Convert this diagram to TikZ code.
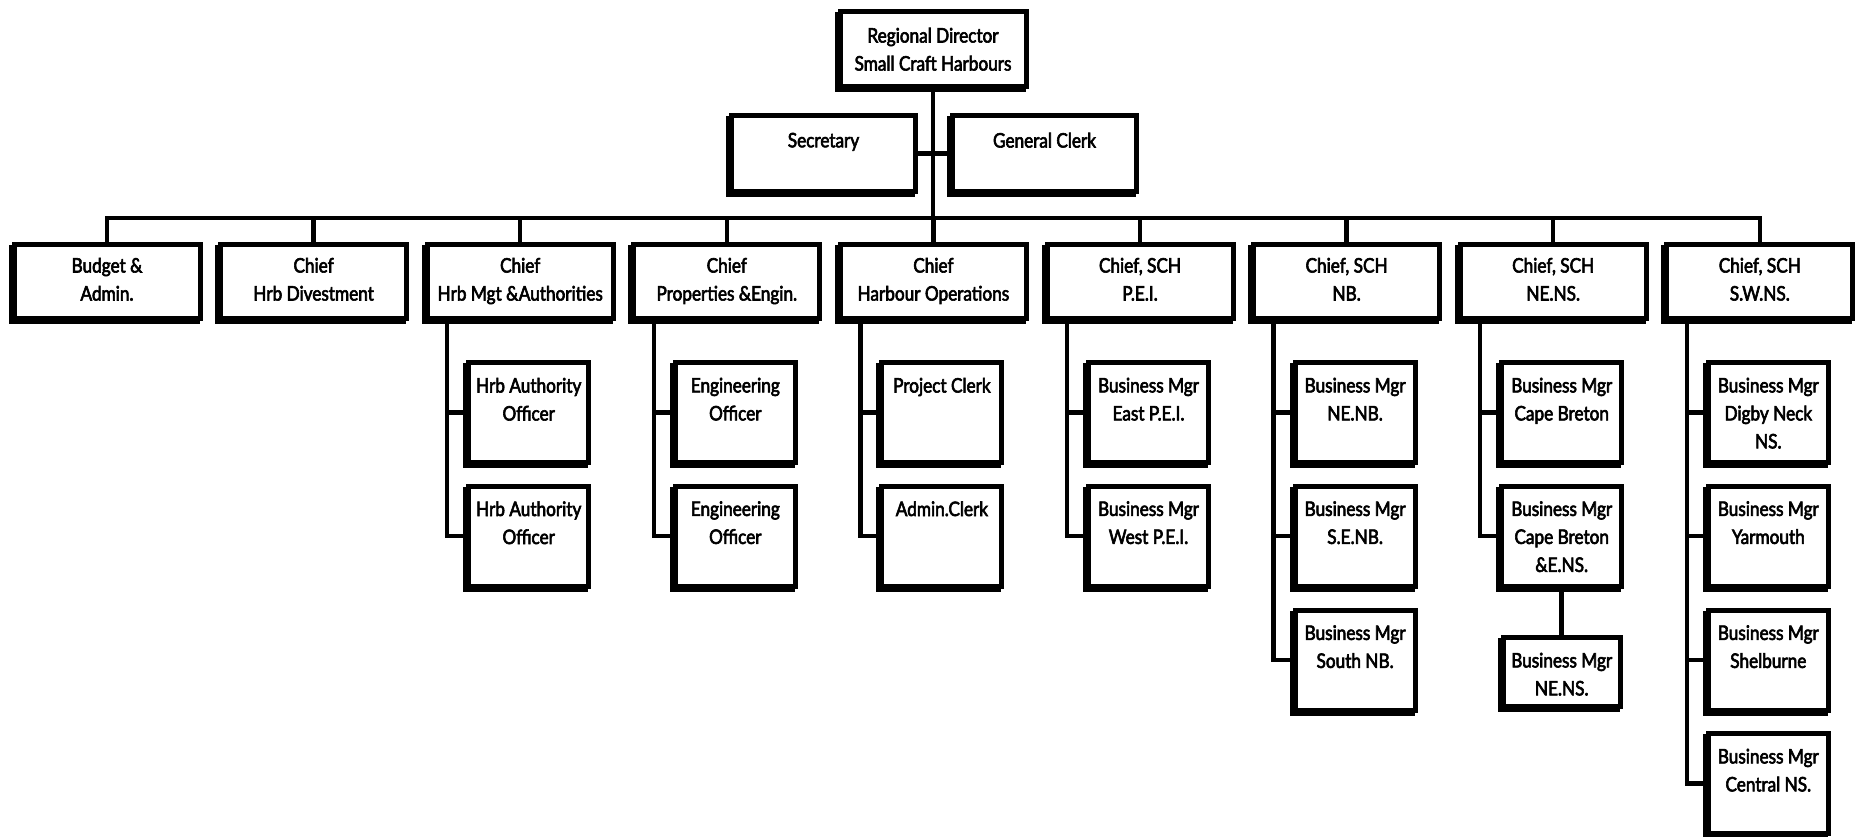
\documentclass[tikz,border=0pt]{standalone}
\usepackage{fontspec}
\setmainfont{Lato}[FakeStretch=0.86,FakeBold=3]
\usetikzlibrary{shadows,backgrounds,calc}

\tikzset{
  x=1pt, y=-1pt,
  unit/.style={rectangle, draw=black, fill=white, line width=5pt, inner sep=0pt, outer sep=0pt,
    general shadow={draw=black, fill=black, line width=5pt, shadow xshift=-3pt, shadow yshift=-3pt}},
  lbl/.style={align=center, inner sep=0pt, outer sep=0pt, font=\fontsize{20}{28}\selectfont},
  wire/.style={line width=4.5pt, line join=miter},
}

% #1 name, #2 centre x, #3 top edge y, #4 width, #5 height, #6 gap above text, #7 text
\newcommand\orgunit[7]{%
  \node[unit, minimum width=#4pt, minimum height=#5pt, anchor=north] (#1) at (#2,#3) {};
  \node[lbl, anchor=north] (#1-t) at ([yshift=-#6pt]#1.north) {#7};
}

\begin{document}
\begin{tikzpicture}
\useasboundingbox (0,0) rectangle (1858,836);

% head of the region and its office staff
\orgunit{rd}{933}{11.5}{186}{75}{16.3}{Regional Director\\Small Craft Harbours}
\orgunit{sec}{823.5}{115.5}{184}{76}{17.3}{Secretary}
\orgunit{clerk}{1044.5}{115.5}{184}{76}{17.3}{General Clerk}

% branch heads
\orgunit{c1}{107}{244}{186}{74}{13.8}{Budget \&\\Admin.}
\orgunit{c2}{313.6}{244}{186}{74}{13.8}{Chief\\Hrb Divestment}
\orgunit{c3}{520.2}{244}{186}{74}{13.8}{Chief\\Hrb Mgt \&Authorities}
\orgunit{c4}{726.8}{244}{186}{74}{13.8}{Chief\\Properties \&Engin.}
\orgunit{c5}{933.4}{244}{186}{74}{13.8}{Chief\\Harbour Operations}
\orgunit{c6}{1140}{244}{186}{74}{13.8}{Chief, SCH\\P.E.I.}
\orgunit{c7}{1346.6}{244}{186}{74}{13.8}{Chief, SCH\\NB.}
\orgunit{c8}{1553.2}{244}{186}{74}{13.8}{Chief, SCH\\NE.NS.}
\orgunit{c9}{1759.8}{244}{186}{74}{13.8}{Chief, SCH\\S.W.NS.}

% staff under each branch
\orgunit{k3a}{528.7}{362.5}{120}{100}{15.3}{Hrb Authority\\Officer}
\orgunit{k3b}{528.7}{486}{120}{100}{15.3}{Hrb Authority\\Officer}
\orgunit{k4a}{735.3}{362.5}{120}{100}{15.3}{Engineering\\Officer}
\orgunit{k4b}{735.3}{486}{120}{100}{15.3}{Engineering\\Officer}
\orgunit{k5a}{941.9}{362.5}{120}{100}{15.3}{Project Clerk}
\orgunit{k5b}{941.9}{486}{120}{100}{15.3}{Admin.Clerk}
\orgunit{k6a}{1148.5}{362.5}{120}{100}{15.3}{Business Mgr\\East P.E.I.}
\orgunit{k6b}{1148.5}{486}{120}{100}{15.3}{Business Mgr\\West P.E.I.}
\orgunit{k7a}{1355.1}{362.5}{120}{100}{15.3}{Business Mgr\\NE.NB.}
\orgunit{k7b}{1355.1}{486}{120}{100}{15.3}{Business Mgr\\S.E.NB.}
\orgunit{k7c}{1355.1}{610}{120}{100}{15.3}{Business Mgr\\South NB.}
\orgunit{k8a}{1561.7}{362.5}{120}{100}{15.3}{Business Mgr\\Cape Breton}
\orgunit{k8b}{1561.7}{486}{120}{100}{15.3}{Business Mgr\\Cape Breton\\\&E.NS.}
\orgunit{k8c}{1561.7}{637.5}{117}{69}{15.3}{Business Mgr\\NE.NS.}
\orgunit{k9a}{1768.3}{362.5}{120}{100}{15.3}{Business Mgr\\Digby Neck\\NS.}
\orgunit{k9b}{1768.3}{486}{120}{100}{15.3}{Business Mgr\\Yarmouth}
\orgunit{k9c}{1768.3}{610}{120}{100}{15.3}{Business Mgr\\Shelburne}
\orgunit{k9d}{1768.3}{733.5}{120}{100}{15.3}{Business Mgr\\Central NS.}

\coordinate (bus) at (107,218);

\begin{pgfonlayer}{background}
  % white sheet under everything
  \fill[white] (0,0) rectangle (1858,836);

  % reporting lines of the top level
  \draw[wire] (rd.south) -- (rd.south |- bus);
  \draw[wire] (sec.east) -- (clerk.west);
  \draw[wire] (c1.north) -- (c1.north |- bus) -- (c9.north |- bus) -- (c9.north);
  \foreach \c in {c2,c3,c4,c5,c6,c7,c8}
    \draw[wire] (\c.north) -- (\c.north |- bus);

  % reporting lines inside the branches
  \draw[wire] ($(c3.south)+(-73,0)$) |- (k3b.west);
  \draw[wire] (k3a.west) -- ++(-21.5,0);
  \draw[wire] ($(c4.south)+(-73,0)$) |- (k4b.west);
  \draw[wire] (k4a.west) -- ++(-21.5,0);
  \draw[wire] ($(c5.south)+(-73,0)$) |- (k5b.west);
  \draw[wire] (k5a.west) -- ++(-21.5,0);
  \draw[wire] ($(c6.south)+(-73,0)$) |- (k6b.west);
  \draw[wire] (k6a.west) -- ++(-21.5,0);
  \draw[wire] ($(c7.south)+(-73,0)$) |- (k7c.west);
  \draw[wire] (k7a.west) -- ++(-21.5,0);
  \draw[wire] (k7b.west) -- ++(-21.5,0);
  \draw[wire] ($(c8.south)+(-73,0)$) |- (k8b.west);
  \draw[wire] (k8a.west) -- ++(-21.5,0);
  \draw[wire] (k8b.south) -- (k8c.north);
  \draw[wire] ($(c9.south)+(-73,0)$) |- (k9d.west);
  \draw[wire] (k9a.west) -- ++(-21.5,0);
  \draw[wire] (k9b.west) -- ++(-21.5,0);
  \draw[wire] (k9c.west) -- ++(-21.5,0);
\end{pgfonlayer}
\end{tikzpicture}
\end{document}
